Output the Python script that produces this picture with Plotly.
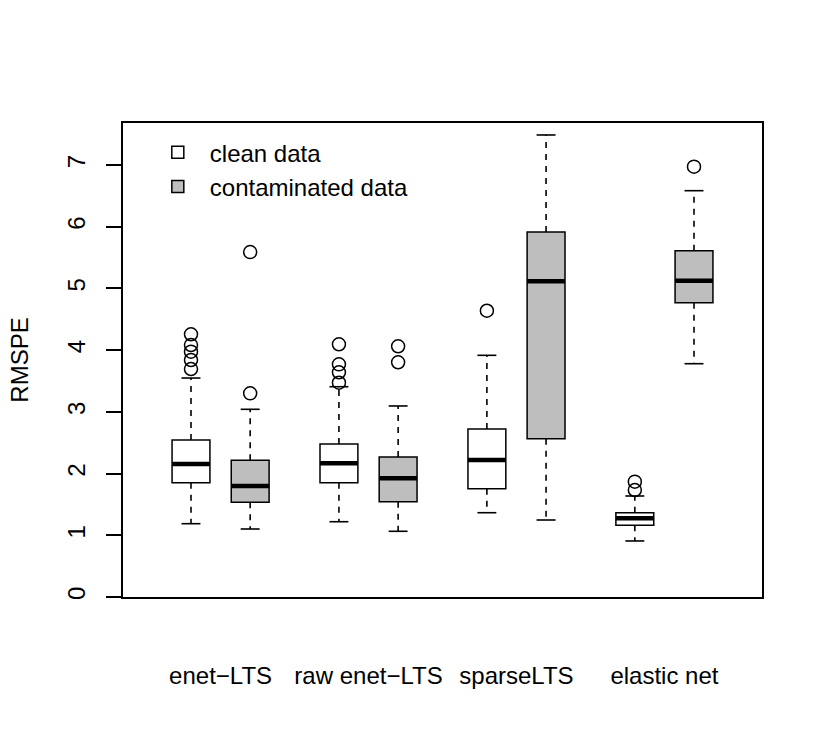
import plotly.graph_objects as go

# ---- data ----
groups = ["enet−LTS", "raw enet−LTS", "sparseLTS", "elastic net"]
series_names = ["clean data", "contaminated data"]

clean_q1 = [1.853, 1.853, 1.755, 1.162]
clean_median = [2.156, 2.167, 2.220, 1.276]
clean_q3 = [2.545, 2.480, 2.723, 1.366]
clean_lower = [1.188, 1.220, 1.366, 0.908]
clean_upper = [3.549, 3.408, 3.917, 1.637]
clean_outliers = [
    [4.258, 4.084, 3.976, 3.841, 3.695],
    [4.096, 3.771, 3.642, 3.473],
    [4.640],
    [1.869, 1.734],
]

cont_q1 = [1.535, 1.545, 2.566, 4.770]
cont_median = [1.799, 1.924, 5.117, 5.126]
cont_q3 = [2.216, 2.269, 5.916, 5.613]
cont_lower = [1.102, 1.065, 1.248, 3.781]
cont_upper = [3.042, 3.096, 7.488, 6.585]
cont_outliers = [
    [3.301, 5.590],
    [4.063, 3.804],
    [],
    [6.974],
]

# ---- layout positions ----
pos_clean = [1, 3.5, 6, 8.5]
pos_cont = [2, 4.5, 7, 9.5]
group_centers = [1.5, 4, 6.5, 9]
BOX_W = 0.64
FONT = "Liberation Sans, Arial, sans-serif"
FS = 24

fig = go.Figure()


def add_series(name, pos, q1, med, q3, lo, hi, outl, fill):
    fig.add_trace(go.Box(
        x=pos, q1=q1, median=med, q3=q3, lowerfence=q1, upperfence=q3,
        width=BOX_W, fillcolor=fill, line=dict(color="black", width=1.5),
        name=name, boxpoints=False, hoverinfo="skip", showlegend=True,
        whiskerwidth=0,
    ))
    # dashed whiskers
    wx, wy = [], []
    for p, a, b, c, d in zip(pos, q1, q3, lo, hi):
        wx += [p, p, None, p, p, None]
        wy += [b, d, None, a, c, None]
    fig.add_trace(go.Scatter(x=wx, y=wy, mode="lines", showlegend=False,
                             hoverinfo="skip",
                             line=dict(color="black", width=1.6, dash="6px,6px")))
    # staples
    sx, sy = [], []
    for p, c, d in zip(pos, lo, hi):
        sx += [p - BOX_W / 4, p + BOX_W / 4, None, p - BOX_W / 4, p + BOX_W / 4, None]
        sy += [c, c, None, d, d, None]
    fig.add_trace(go.Scatter(x=sx, y=sy, mode="lines", showlegend=False,
                             hoverinfo="skip", line=dict(color="black", width=1.6)))
    # thick medians
    mx, my = [], []
    for p, m in zip(pos, med):
        mx += [p - BOX_W / 2, p + BOX_W / 2, None]
        my += [m, m, None]
    fig.add_trace(go.Scatter(x=mx, y=my, mode="lines", showlegend=False,
                             hoverinfo="skip", line=dict(color="black", width=4.5)))
    # outliers
    ox, oy = [], []
    for p, vals in zip(pos, outl):
        for v in vals:
            ox.append(p)
            oy.append(v)
    fig.add_trace(go.Scatter(x=ox, y=oy, mode="markers", showlegend=False,
                             hoverinfo="skip",
                             marker=dict(symbol="circle-open", size=13, color="black",
                                         line=dict(width=1.5, color="black"))))


add_series(series_names[0], pos_clean, clean_q1, clean_median, clean_q3,
           clean_lower, clean_upper, clean_outliers, "white")
add_series(series_names[1], pos_cont, cont_q1, cont_median, cont_q3,
           cont_lower, cont_upper, cont_outliers, "#bebebe")

fig.update_layout(
    width=825, height=750,
    margin=dict(l=123, r=63, t=123, b=153),
    paper_bgcolor="white", plot_bgcolor="white",
    font=dict(family=FONT, size=FS, color="black"),
    showlegend=True,
    legend=dict(x=0.0357, y=0.985, xanchor="left", yanchor="top",
                bgcolor="rgba(0,0,0,0)", borderwidth=0,
                font=dict(size=FS), tracegroupgap=0, itemwidth=54),
    boxmode="overlay",
)
fig.update_xaxes(
    range=[-0.149, 10.649], tickmode="array", tickvals=group_centers,
    ticktext=groups, ticks="", showgrid=False, zeroline=False,
    showline=True, linecolor="black", linewidth=1.5, mirror=True,
    ticklabelstandoff=56, tickfont=dict(size=FS),
)
fig.update_yaxes(
    range=[0, 7.682], tickmode="array", tickvals=[0, 1, 2, 3, 4, 5, 6, 7],
    ticks="outside", ticklen=15, tickwidth=1.5, tickcolor="black",
    showgrid=False, zeroline=False, showline=True, linecolor="black",
    linewidth=1.5, mirror=True, tickangle=-90, ticklabelstandoff=12,
    tickfont=dict(size=FS),
    title=dict(text="RMSPE", font=dict(size=FS), standoff=27),
)

fig.write_html("out.html")
